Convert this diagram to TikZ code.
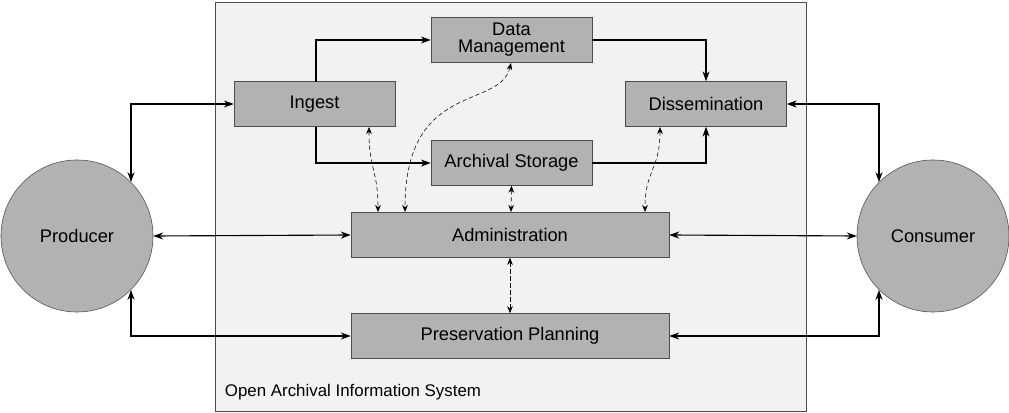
\documentclass[tikz,border=0pt]{standalone}
\usepackage{fontspec}
\setmainfont{Liberation Sans}
\usetikzlibrary{arrows.meta}
\tikzset{
  box/.style={draw=black!70, fill=black!30, minimum width=4.025cm, minimum height=1.125cm, font=\fontsize{13}{14}\selectfont, align=center},
  wide/.style={box, minimum width=7.95cm},
  party/.style={circle, draw=black!70, fill=black!30, minimum size=3.8cm, font=\fontsize{13}{14}\selectfont},
  flow/.style={thick, -{Stealth[length=7pt,width=5pt]}},
  both/.style={flow, {Stealth[length=7pt,width=5pt]}-{Stealth[length=7pt,width=5pt]}},
  link/.style={densely dashed, {Stealth[length=5pt,width=4pt]}-{Stealth[length=5pt,width=4pt]}}
}
\begin{document}
\begin{tikzpicture}[x=0.025cm, y=-0.025cm]
  \useasboundingbox (0,0) rectangle (1009,413);
  \draw[black!70, fill=black!5] (215,2) rectangle (806,411);
  \node[anchor=west, font=\fontsize{12}{13}\selectfont] (oais) at (220,392) {Open Archival Information System};

  \node[party] (prod) at (77,236)  {Producer};
  \node[party] (cons) at (933,236) {Consumer};

  \node[box]  (dm)   at (511.5,40)  {Data\\[-2pt]Management};
  \node[box]  (ing)  at (314.5,104) {Ingest};
  \node[box]  (dis)  at (706,104)   {Dissemination};
  \node[box]  (as)   at (511.5,163) {Archival Storage};
  \node[wide] (adm)  at (510,235)   {Administration};
  \node[wide] (pp)   at (510,336)   {Preservation Planning};

  % outside parties
  \draw[both] (ing.west) -- (131,104) -- (131,182);
  \draw[both] (pp.west) -- (131,336) -- (131,290);
  \draw[both] (prod.east) -- (adm.west);
  \draw[both] (dis.east) -- (879,104) -- (879,182);
  \draw[both] (pp.east) -- (879,336) -- (879,290);
  \draw[both] (cons.west) -- (adm.east);

  % data flow
  \draw[flow] (316,82) -- (316,40) -- (dm.west);
  \draw[flow] (316,127) -- (316,163) -- (as.west);
  \draw[flow] (dm.east) -- (706,40) -- (dis.north);
  \draw[flow] (as.east) -- (706,163) -- (dis.south);

  % administration links
  \draw[link] (369,127) .. controls (369,170) and (378,170) .. (378,212);
  \draw[link] (511,63) .. controls (500,110) and (405,80) .. (405,212);
  \draw[link] (as.south) -- (511,212);
  \draw[link] (660,127) .. controls (660,170) and (645,170) .. (645,212);
  \draw[link] (adm.south) -- (pp.north);
\end{tikzpicture}
\end{document}
